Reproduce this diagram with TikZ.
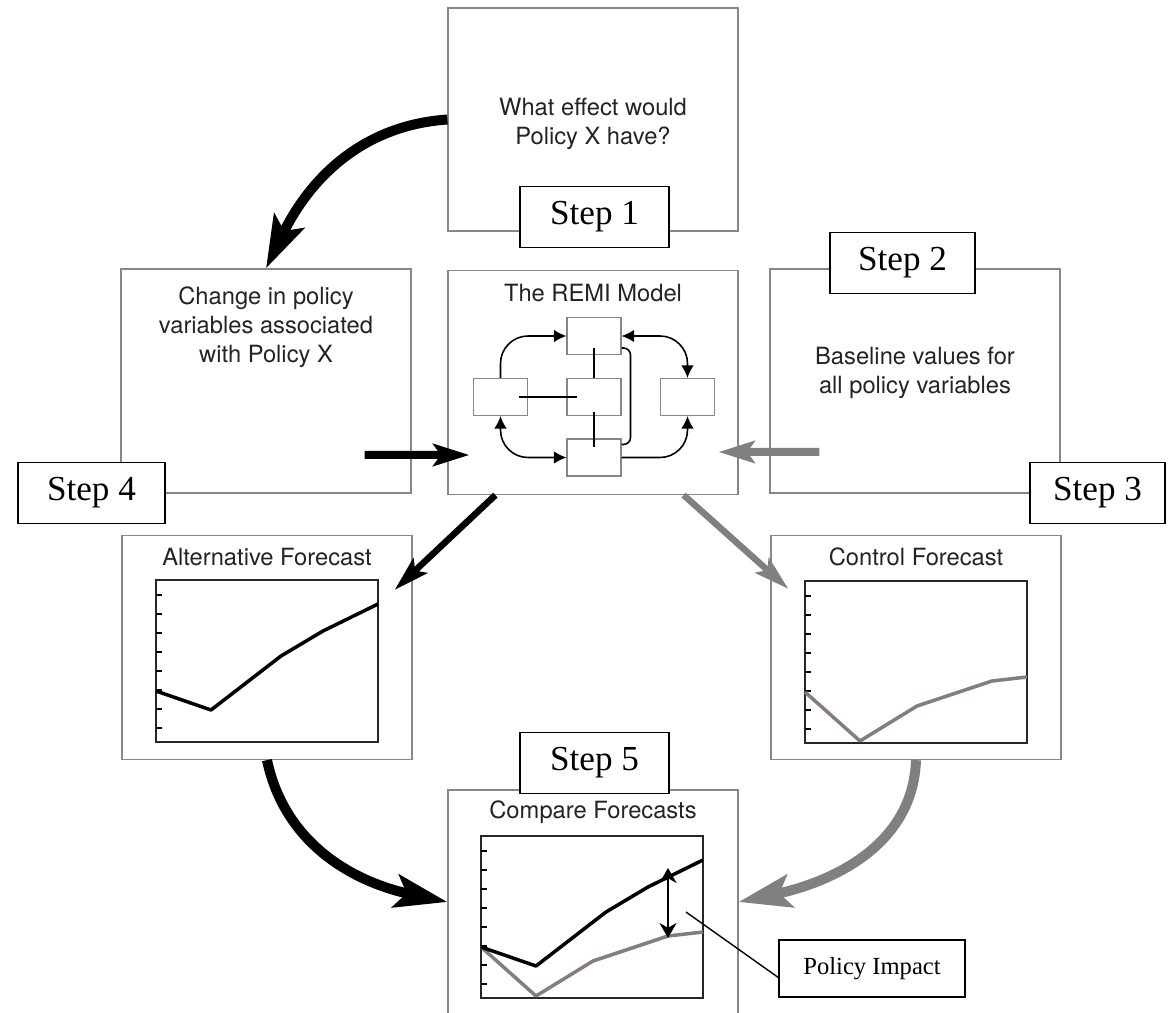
\documentclass[tikz,border=0pt]{standalone}
\usepackage{fontspec}
\setmainfont{Liberation Serif}
\newfontfamily\helv{TeX Gyre Heros}
\usetikzlibrary{arrows.meta}

\begin{document}
\begin{tikzpicture}[x=0.02cm,y=-0.02cm]
\def\px{0.02cm}
\definecolor{boxgray}{RGB}{135,135,135}
\definecolor{arrowgray}{RGB}{128,128,128}
\definecolor{linegray}{RGB}{134,124,126}
\definecolor{txtgray}{RGB}{35,35,35}
\tikzset{
	panel/.style={draw=boxgray,line width=0.7pt,rectangle,inner sep=0pt,
		minimum width=290*\px,minimum height=#1*\px},
	panel/.default=224,
	panel text/.style={font=\helv\fontsize{13.5}{16.5}\selectfont,text=txtgray,align=center},
	step label/.style={draw,fill=white,line width=0.8pt,inner sep=0pt,
		minimum width=#1*\px,minimum height=61*\px,font=\fontsize{20}{24}\selectfont},
	mini box/.style={draw=boxgray,line width=0.6pt,inner sep=0pt,
		minimum width=54*\px,minimum height=37*\px},
	mini tip/.tip={Latex[length=0.25cm,width=0.25cm]},
	mini line/.style={line width=0.9pt,rounded corners=0.55cm},
	big arc/.style={line width=0.2cm,-{Stealth[length=1.05cm,width=0.66cm,inset=0.22cm]}},
	big bar/.style={line width=0.16cm,-{Stealth[length=0.72cm,width=0.44cm,inset=0.15cm]}},
	thin bar/.style={line width=0.13cm,-{Stealth[length=0.7cm,width=0.4cm,inset=0.14cm]}},
	chart frame/.style={line width=1.1pt,draw=black!85},
	alt line/.style={line width=2pt,line join=round},
	ctl line/.style={line width=2pt,line join=round,draw=linegray}
}
\useasboundingbox (0,0) rectangle (1173,1013);
\def\altline{(0,111) -- (55,130) -- (125,76) -- (167,51) -- (222,24)}
\def\ctlline{(0,111) -- (55,160) -- (112,125) -- (187,100) -- (222,96)}

\node[panel=223] (q) at (593,119.5) {};
\node[panel] (chg) at (266,381) {};
\node[panel] (remi) at (593,382.5) {};
\node[panel] (base) at (915,381) {};
\node[panel] (alt) at (267,647.5) {};
\node[panel] (ctl) at (916,647.5) {};
\node[panel] (cmp) at (593,902) {};

\node[panel text] (qt) at (593,124) {What effect would\\Policy X have?};
\node[panel text] (chgt) at (266,327) {Change in policy\\variables associated\\with Policy X};
\node[panel text] (baset) at (915,373) {Baseline values for\\all policy variables};
\node[panel text] (remit) at (593,293) {The REMI Model};
\node[panel text] (altt) at (267,557) {Alternative Forecast};
\node[panel text] (ctlt) at (916,557) {Control Forecast};
\node[panel text] (cmpt) at (593,812) {Compare Forecasts};

\node[mini box] (r1) at (594,336) {};
\node[mini box] (r2) at (594,397) {};
\node[mini box] (r3) at (594,457.5) {};
\node[mini box] (r4) at (500.5,397) {};
\node[mini box] (r5) at (687.5,397) {};
\draw[mini line,-mini tip] (r4.north) |- (r1.west);
\draw[mini line,mini tip-mini tip] (r4.south) |- (r3.west);
\draw[mini line,mini tip-mini tip] (r1.east) -| (r5.north);
\draw[mini line,-mini tip] (r3.east) -| (r5.south);
\draw[line width=0.9pt,rounded corners=4pt] ([yshift=0.14cm]r1.south east) -- ++(9,0) |- ([yshift=-0.12cm]r3.north east);
\draw[line width=0.9pt] ([xshift=0.37cm]r4.center) -- ([xshift=-0.34cm]r2.center);
\draw[line width=0.9pt] ([yshift=-0.24cm]r1.center) -- (r2.north);
\draw[line width=0.9pt] ([yshift=-0.3cm]r2.center) -- ([yshift=0.21cm]r3.center);

\foreach \ox/\oy in {156/580,805/581,481/836}
{
	\begin{scope}[shift={(\ox,\oy)}]
	\draw[chart frame] (0,0) rectangle (222,162);
	\foreach \k in {0,...,7}
		\draw[line width=0.8pt] (0,15+19*\k) -- ++(6,0);
	\end{scope}
}
\begin{scope}[shift={(156,580)}]
\draw[alt line] \altline;
\end{scope}
\begin{scope}[shift={(805,581)}]
\draw[ctl line] \ctlline;
\end{scope}
\begin{scope}[shift={(481,836)}]
\draw[ctl line] \ctlline;
\draw[alt line] \altline;
\draw[line width=1.4pt,{Stealth[length=0.3cm,width=0.34cm]}-{Stealth[length=0.3cm,width=0.34cm]}] (187,32) -- (187,102);
\coordinate (imp) at (205,76);
\end{scope}

\draw[big arc] (q.west) to[out=184,in=64] (chg.north);
\draw[big arc] (alt.south) to[out=-78,in=168] (cmp.west);
\draw[big arc,color=arrowgray] (ctl.south) to[out=-92,in=12] (cmp.east);
\draw[big bar] ([xshift=-0.94cm,yshift=-1.48cm]chg.east) -- ([xshift=0.44cm,yshift=-1.45cm]remi.west);
\draw[big bar,color=arrowgray] ([xshift=1.0cm,yshift=-1.42cm]base.west) -- ([xshift=-0.4cm,yshift=-1.39cm]remi.east);
\draw[thin bar] ([xshift=0.96cm]remi.south west) -- ([xshift=-0.36cm,yshift=-1.1cm]alt.north east);
\draw[thin bar,color=arrowgray] ([xshift=-1.1cm]remi.south east) -- ([xshift=0.36cm,yshift=-1.08cm]ctl.north west);

\node[step label=149] (s1) at (594.5,217) {Step 1};
\node[step label=145] (s2) at (902.5,263) {Step 2};
\node[step label=135] (s3) at (1097.5,493) {Step 3};
\node[step label=147] (s4) at (91.5,493) {Step 4};
\node[step label=149] (s5) at (594.5,763) {Step 5};
\node[draw,fill=white,line width=0.8pt,minimum width=186*\px,minimum height=57*\px,
	font=\fontsize{14}{17}\selectfont] (pi) at (872,968.5) {Policy Impact};
\draw[line width=0.8pt] (imp) -- ([yshift=-0.18cm]pi.west);
\end{tikzpicture}
\end{document}
